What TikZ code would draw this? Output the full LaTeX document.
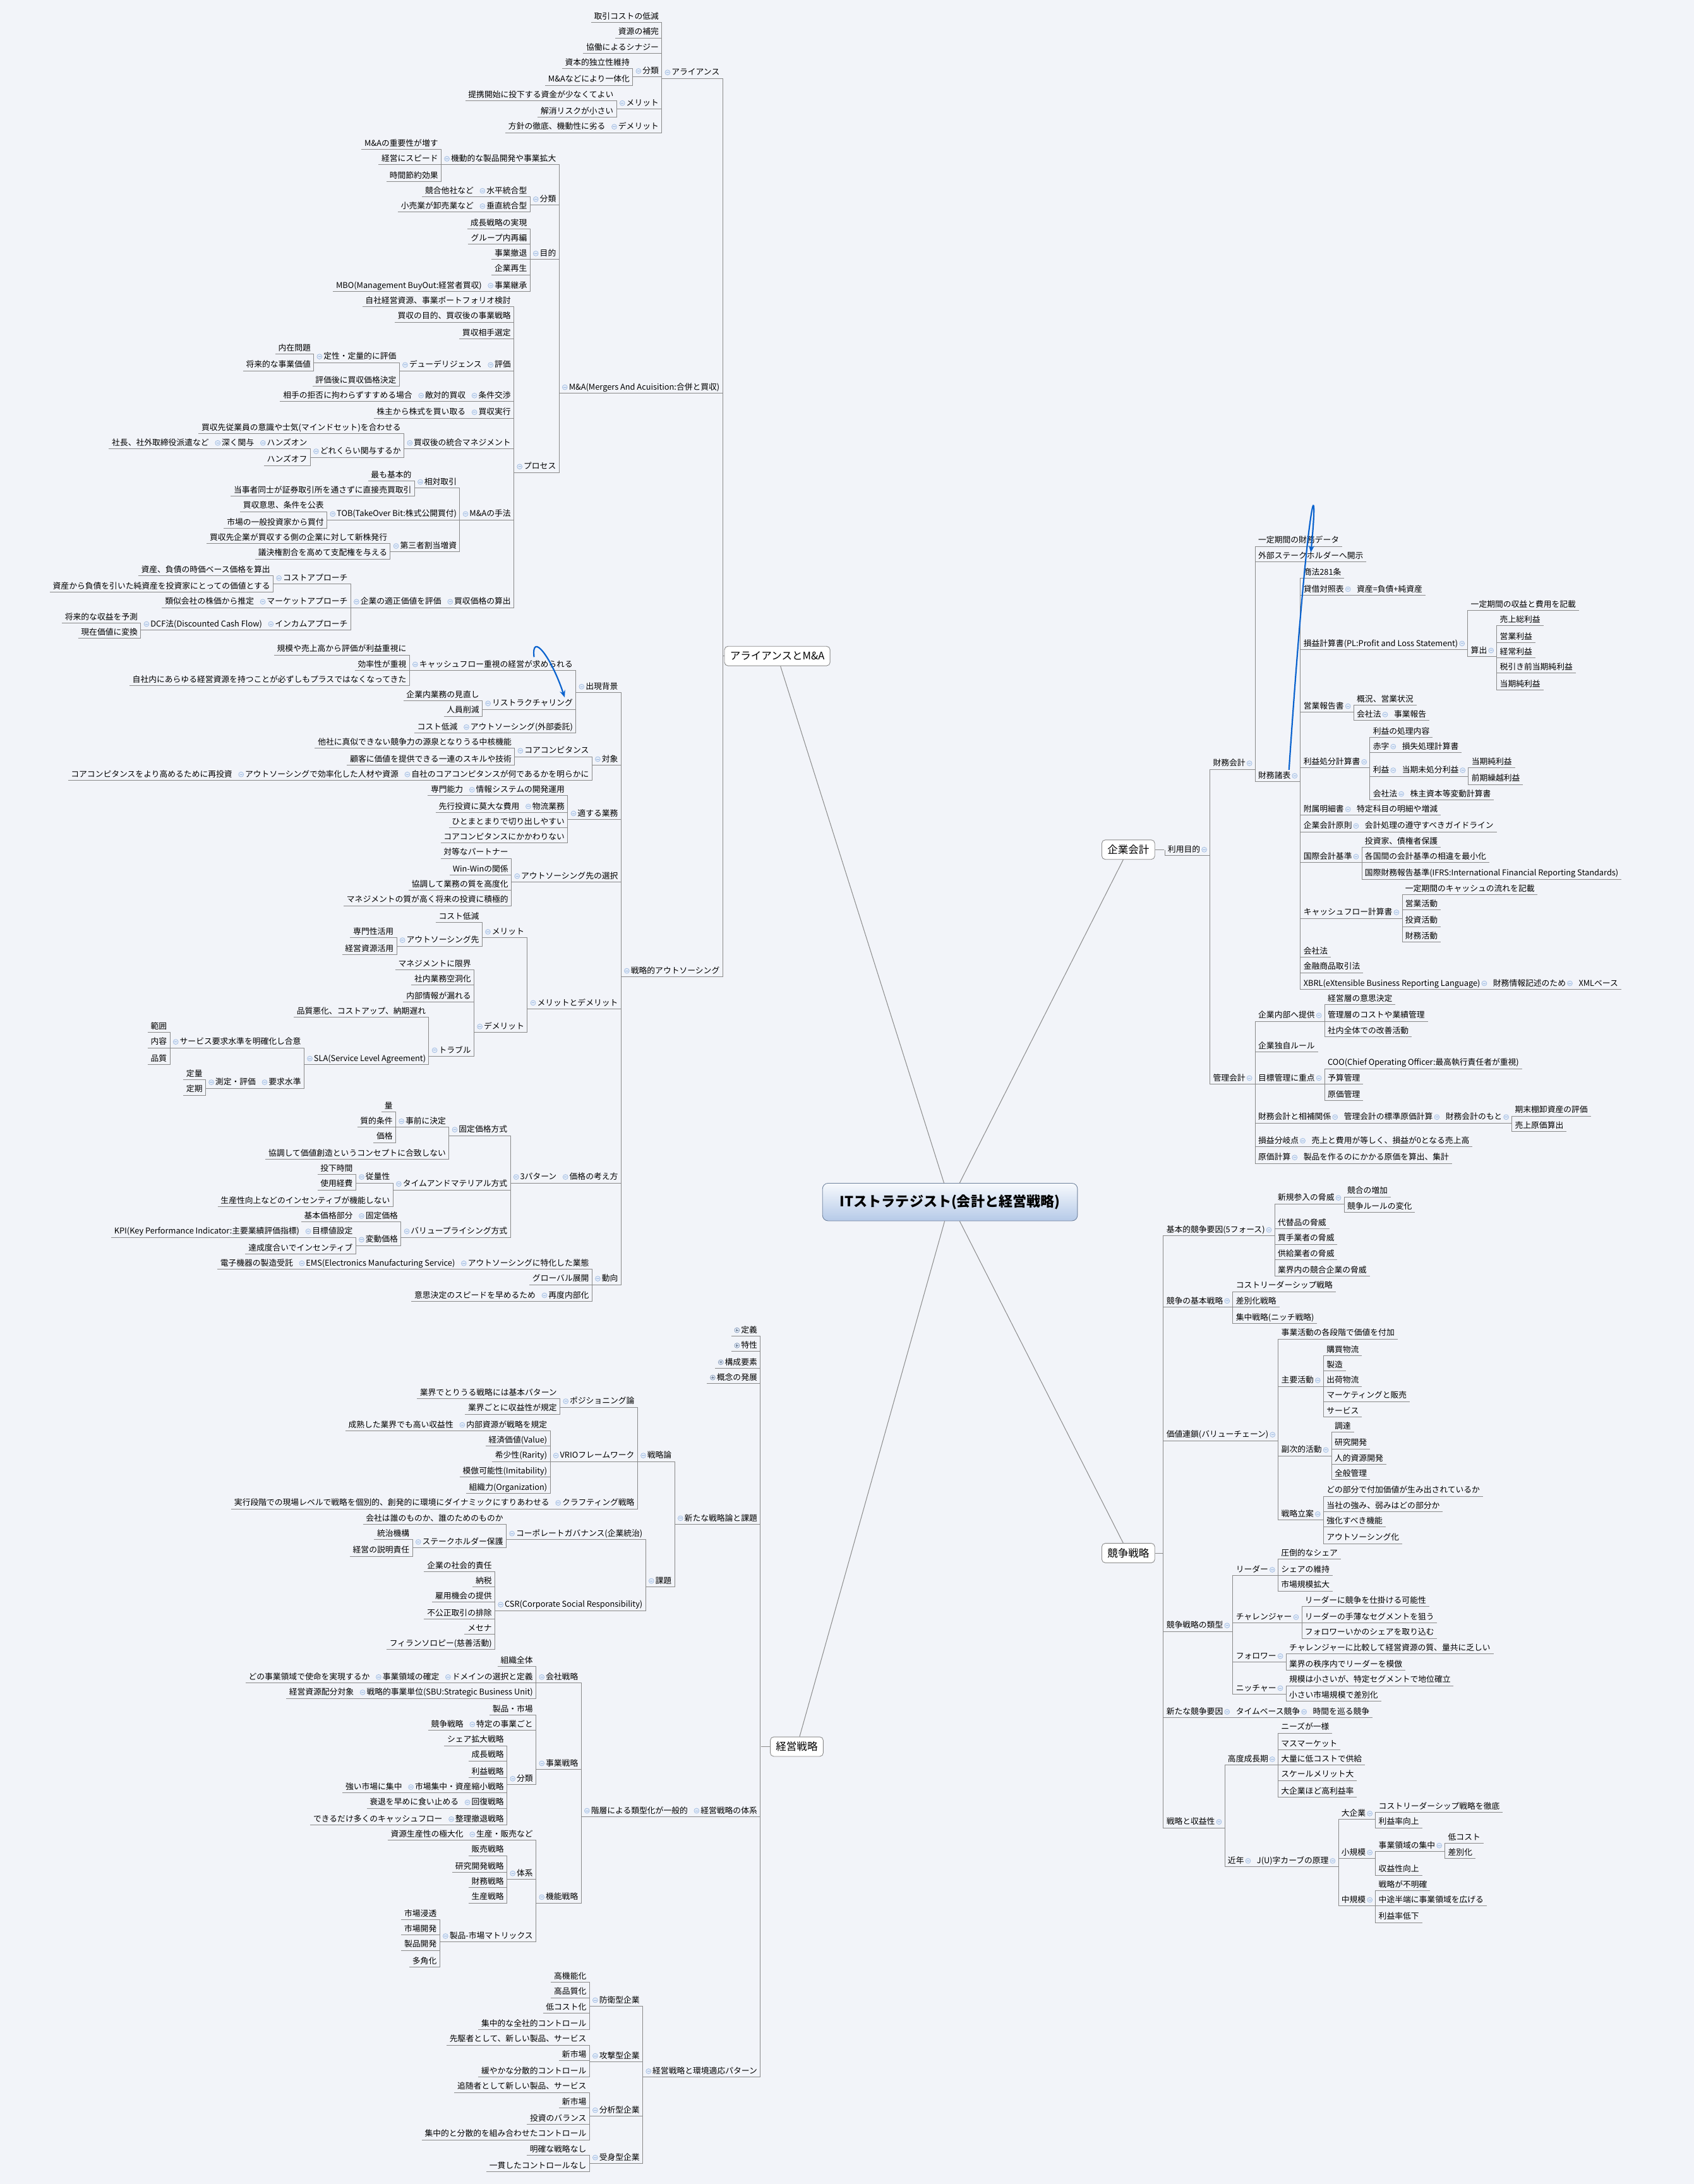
\documentclass[tikz,border=0pt]{standalone}
\usepackage{fontspec}
\setmainfont{Noto Sans CJK JP}
\usetikzlibrary{arrows.meta}
\definecolor{bgc}{HTML}{F2F4F9}
\definecolor{lnc}{HTML}{8A8A8A}
\definecolor{dotc}{HTML}{9DB8E0}
\definecolor{dotf}{HTML}{E3ECF8}
\definecolor{arc}{HTML}{0B63CE}
\newcommand\dt{\tikz[baseline=-0.6ex]{\draw[dotc,fill=dotf,line width=.3pt](0,0)circle(1.8pt);\draw[dotc,line width=.4pt](-1pt,0)--(1pt,0);}\,}
\newcommand\dtr{\,\tikz[baseline=-0.6ex]{\draw[dotc,fill=dotf,line width=.3pt](0,0)circle(1.8pt);\draw[dotc,line width=.4pt](-1pt,0)--(1pt,0);}}
\newcommand\dtp{\tikz[baseline=-0.6ex]{\draw[dotc!80!black,fill=dotf,line width=.3pt](0,0)circle(1.8pt);\draw[dotc!60!black,line width=.4pt](-1pt,0)--(1pt,0)(0,-1pt)--(0,1pt);}\,}
\newcommand\lc[4]{\node[nd,anchor=east] (#1) at (#2.south west |- 0,#3) {#4}; \draw[ln] (#1.south west) -- (#1.south east) -- (#2.south west);}
\newcommand\rc[4]{\node[nd,anchor=west] (#1) at (#2.south east |- 0,#3) {#4}; \draw[ln] (#1.south east) -- (#1.south west) -- (#2.south east);}
\begin{document}
\begin{tikzpicture}[x=1pt,y=-1pt,
  nd/.style={font=\fontsize{5.8}{6}\selectfont,inner xsep=2pt,inner ysep=1pt,text height=5pt,text depth=1.2pt},
  ln/.style={draw=lnc,line width=.45pt},
  bx/.style={draw=lnc,fill=white,rounded corners=2.5pt,font=\fontsize{7.5}{8}\selectfont,inner xsep=4pt,minimum height=14pt},
  sp/.style={inner sep=0pt,minimum size=0pt},
  arw/.style={draw=arc,line width=1pt,-{Stealth[length=5pt,width=4pt]}}]
\fill[bgc] (0,0) rectangle (1216,1568);
\useasboundingbox (0,0) rectangle (1216,1568);
% root
\node[draw=dotc!70!black,rounded corners=4pt,top color=white!70!dotf,bottom color=dotc!75,minimum width=183pt,minimum height=27pt,font=\bfseries\fontsize{10}{11}\selectfont] (root) at (682,863) {ITストラテジスト(会計と経営戦略)};
\node[bx] (am) at (558,471) {アライアンスとM\&A};
\node[bx] (ks) at (572,1254) {経営戦略};
\node[bx] (ka) at (810,610) {企業会計};
\node[bx] (kk) at (810,1115) {競争戦略};
\draw[ln] (root) -- (am); \draw[ln] (root) -- (ks); \draw[ln] (root) -- (ka); \draw[ln] (root) -- (kk);
\node[sp] (amS) at (519,471) {}; \draw[ln] (amS) -- (am.west);
\node[sp] (ksS) at (546,1254) {}; \draw[ln] (ksS) -- (ks.west);
\node[sp] (kaS) at (836,610) {}; \draw[ln] (kaS) -- (ka.east);
\node[sp] (kkS) at (835,1115) {}; \draw[ln] (kkS) -- (kk.east);
% ===== Alliance
\lc{al}{amS}{52}{\dt アライアンス}
\lc{al1}{al}{12}{取引コストの低減}
\lc{al2}{al}{23}{資源の補完}
\lc{al3}{al}{34}{協働によるシナジー}
\lc{al4}{al}{51}{\dt 分類}
\lc{al41}{al4}{45}{資本的独立性維持}
\lc{al42}{al4}{57}{M\&Aなどにより一体化}
\lc{al5}{al}{74}{\dt メリット}
\lc{al51}{al5}{68}{提携開始に投下する資金が少なくてよい}
\lc{al52}{al5}{80}{解消リスクが小さい}
\lc{al6}{al}{91}{\dt デメリット}
\lc{al61}{al6}{91}{方針の徹底、機動性に劣る}
% ===== M&A
\lc{ma}{amS}{278}{\dt M\&A(Mergers And Acuisition:合併と買収)}
\lc{m1}{ma}{114}{\dt 機動的な製品開発や事業拡大}
\lc{m11}{m1}{103}{M\&Aの重要性が増す}
\lc{m12}{m1}{114}{経営にスピード}
\lc{m13}{m1}{126}{時間節約効果}
\lc{m2}{ma}{143}{\dt 分類}
\lc{m21}{m2}{137}{\dt 水平統合型}
\lc{m211}{m21}{137}{競合他社など}
\lc{m22}{m2}{148}{\dt 垂直統合型}
\lc{m221}{m22}{148}{小売業が卸売業など}
\lc{m3}{ma}{182}{\dt 目的}
\lc{m31}{m3}{160}{成長戦略の実現}
\lc{m32}{m3}{171}{グループ内再編}
\lc{m33}{m3}{182}{事業撤退}
\lc{m34}{m3}{193}{企業再生}
\lc{m35}{m3}{205}{\dt 事業継承}
\lc{m351}{m35}{205}{MBO(Management BuyOut:経営者買収)}
\lc{m4}{ma}{335}{\dt プロセス}
\lc{p1}{m4}{216}{自社経営資源、事業ポートフォリオ検討}
\lc{p2}{m4}{227}{買収の目的、買収後の事業戦略}
\lc{p3}{m4}{239}{買収相手選定}
\lc{p4}{m4}{262}{\dt 評価}
\lc{p41}{p4}{262}{\dt デューデリジェンス}
\lc{p411}{p41}{256}{\dt 定性・定量的に評価}
\lc{p4111}{p411}{250}{内在問題}
\lc{p4112}{p411}{262}{将来的な事業価値}
\lc{p412}{p41}{273}{評価後に買収価格決定}
\lc{p5}{m4}{284}{\dt 条件交渉}
\lc{p51}{p5}{284}{\dt 敵対的買収}
\lc{p511}{p51}{284}{相手の拒否に拘わらずすすめる場合}
\lc{p6}{m4}{296}{\dt 買収実行}
\lc{p61}{p6}{296}{株主から株式を買い取る}
\lc{p7}{m4}{318}{\dt 買収後の統合マネジメント}
\lc{p71}{p7}{307}{買収先従業員の意識や士気(マインドセット)を合わせる}
\lc{p72}{p7}{324}{\dt どれくらい関与するか}
\lc{p721}{p72}{318}{\dt ハンズオン}
\lc{p7211}{p721}{318}{\dt 深く関与}
\lc{p72111}{p7211}{318}{社長、社外取締役派遣など}
\lc{p722}{p72}{330}{ハンズオフ}
\lc{p8}{m4}{369}{\dt M\&Aの手法}
\lc{p81}{p8}{346}{\dt 相対取引}
\lc{p811}{p81}{341}{最も基本的}
\lc{p812}{p81}{352}{当事者同士が証券取引所を通さずに直接売買取引}
\lc{p82}{p8}{369}{\dt TOB(TakeOver Bit:株式公開買付)}
\lc{p821}{p82}{363}{買収意思、条件を公表}
\lc{p822}{p82}{375}{市場の一般投資家から買付}
\lc{p83}{p8}{392}{\dt 第三者割当増資}
\lc{p831}{p83}{386}{買収先企業が買収する側の企業に対して新株発行}
\lc{p832}{p83}{397}{議決権割合を高めて支配権を与える}
\lc{p9}{m4}{432}{\dt 買収価格の算出}
\lc{p91}{p9}{432}{\dt 企業の適正価値を評価}
\lc{p911}{p91}{415}{\dt コストアプローチ}
\lc{p9111}{p911}{409}{資産、負債の時価ベース価格を算出}
\lc{p9112}{p911}{421}{資産から負債を引いた純資産を投資家にとっての価値とする}
\lc{p912}{p91}{432}{\dt マーケットアプローチ}
\lc{p9121}{p912}{432}{類似会社の株価から推定}
\lc{p913}{p91}{448}{\dt インカムアプローチ}
\lc{p9131}{p913}{448}{\dt DCF法(Discounted Cash Flow)}
\lc{p91311}{p9131}{443}{将来的な収益を予測}
\lc{p91312}{p9131}{454}{現在価値に変換}
% ===== Outsourcing
\lc{so}{amS}{697}{\dt 戦略的アウトソーシング}
\lc{s1}{so}{493}{\dt 出現背景}
\lc{s11}{s1}{477}{\dt キャッシュフロー重視の経営が求められる}
\lc{s111}{s11}{466}{規模や売上高から評価が利益重視に}
\lc{s112}{s11}{477}{効率性が重視}
\lc{s113}{s11}{488}{自社内にあらゆる経営資源を持つことが必ずしもプラスではなくなってきた}
\lc{s12}{s1}{505}{\dt リストラクチャリング}
\lc{s121}{s12}{499}{企業内業務の見直し}
\lc{s122}{s12}{510}{人員削減}
\lc{s13}{s1}{522}{\dt アウトソーシング(外部委託)}
\lc{s131}{s13}{522}{コスト低減}
\lc{s2}{so}{545}{\dt 対象}
\lc{s21}{s2}{539}{\dt コアコンピタンス}
\lc{s211}{s21}{533}{他社に真似できない競争力の源泉となりうる中核機能}
\lc{s212}{s21}{545}{顧客に価値を提供できる一連のスキルや技術}
\lc{s22}{s2}{556}{\dt 自社のコアコンピタンスが何であるかを明らかに}
\lc{s221}{s22}{556}{\dt アウトソーシングで効率化した人材や資源}
\lc{s2211}{s221}{556}{コアコンピタンスをより高めるために再投資}
\lc{s3}{so}{584}{\dt 適する業務}
\lc{s31}{s3}{567}{\dt 情報システムの開発運用}
\lc{s311}{s31}{567}{専門能力}
\lc{s32}{s3}{579}{\dt 物流業務}
\lc{s321}{s32}{579}{先行投資に莫大な費用}
\lc{s33}{s3}{590}{ひとまとまりで切り出しやすい}
\lc{s34}{s3}{601}{コアコンピタンスにかかわりない}
\lc{s4}{so}{629}{\dt アウトソーシング先の選択}
\lc{s41}{s4}{612}{対等なパートナー}
\lc{s42}{s4}{624}{Win-Winの関係}
\lc{s43}{s4}{635}{協調して業務の質を高度化}
\lc{s44}{s4}{646}{マネジメントの質が高く将来の投資に積極的}
\lc{s5}{so}{720}{\dt メリットとデメリット}
\lc{s51}{s5}{669}{\dt メリット}
\lc{s511}{s51}{658}{コスト低減}
\lc{s512}{s51}{675}{\dt アウトソーシング先}
\lc{s5121}{s512}{669}{専門性活用}
\lc{s5122}{s512}{681}{経営資源活用}
\lc{s52}{s5}{737}{\dt デメリット}
\lc{s521}{s52}{692}{マネジメントに限界}
\lc{s522}{s52}{703}{社内業務空洞化}
\lc{s523}{s52}{715}{内部情報が漏れる}
\lc{s524}{s52}{754}{\dt トラブル}
\lc{s5241}{s524}{726}{品質悪化、コストアップ、納期遅れ}
\lc{s5242}{s524}{760}{\dt SLA(Service Level Agreement)}
\lc{sla1}{s5242}{748}{\dt サービス要求水準を明確化し合意}
\lc{sla11}{sla1}{737}{範囲}
\lc{sla12}{sla1}{748}{内容}
\lc{sla13}{sla1}{760}{品質}
\lc{sla2}{s5242}{777}{\dt 要求水準}
\lc{sla21}{sla2}{777}{\dt 測定・評価}
\lc{sla211}{sla21}{771}{定量}
\lc{sla212}{sla21}{782}{定期}
\lc{s6}{so}{845}{\dt 価格の考え方}
\lc{s61}{s6}{845}{\dt 3パターン}
\lc{t1}{s61}{811}{\dt 固定価格方式}
\lc{t11}{t1}{805}{\dt 事前に決定}
\lc{t111}{t11}{794}{量}
\lc{t112}{t11}{805}{質的条件}
\lc{t113}{t11}{816}{価格}
\lc{t12}{t1}{828}{協調して価値創造というコンセプトに合致しない}
\lc{t2}{s61}{850}{\dt タイムアンドマテリアル方式}
\lc{t21}{t2}{845}{\dt 従量性}
\lc{t211}{t21}{839}{投下時間}
\lc{t212}{t21}{850}{使用経費}
\lc{t22}{t2}{862}{生産性向上などのインセンティブが機能しない}
\lc{t3}{s61}{884}{\dt バリュープライシング方式}
\lc{t31}{t3}{873}{\dt 固定価格}
\lc{t311}{t31}{873}{基本価格部分}
\lc{t32}{t3}{890}{\dt 変動価格}
\lc{t321}{t32}{884}{\dt 目標値設定}
\lc{t3211}{t321}{884}{KPI(Key Performance Indicator:主要業績評価指標)}
\lc{t322}{t32}{896}{達成度合いでインセンティブ}
\lc{s7}{so}{918}{\dt 動向}
\lc{s71}{s7}{907}{\dt アウトソーシングに特化した業態}
\lc{s711}{s71}{907}{\dt EMS(Electronics Manufacturing Service)}
\lc{s7111}{s711}{907}{電子機器の製造受託}
\lc{s72}{s7}{918}{グローバル展開}
\lc{s73}{s7}{930}{\dt 再度内部化}
\lc{s731}{s73}{930}{意思決定のスピードを早めるため}
% ===== 経営戦略
\lc{k1}{ksS}{955}{\dtp 定義}
\lc{k2}{ksS}{966}{\dtp 特性}
\lc{k3}{ksS}{978}{\dtp 構成要素}
\lc{k4}{ksS}{989}{\dtp 概念の発展}
\lc{k5}{ksS}{1090}{\dt 新たな戦略論と課題}
\lc{k51}{k5}{1045}{\dt 戦略論}
\lc{u1}{k51}{1006}{\dt ポジショニング論}
\lc{u11}{u1}{1000}{業界でとりうる戦略には基本パターン}
\lc{u12}{u1}{1011}{業界ごとに収益性が規定}
\lc{u2}{k51}{1045}{\dt VRIOフレームワーク}
\lc{u21}{u2}{1023}{\dt 内部資源が戦略を規定}
\lc{u211}{u21}{1023}{成熟した業界でも高い収益性}
\lc{u22}{u2}{1034}{経済価値(Value)}
\lc{u23}{u2}{1045}{希少性(Rarity)}
\lc{u24}{u2}{1056}{模倣可能性(Imitability)}
\lc{u25}{u2}{1068}{組織力(Organization)}
\lc{u3}{k51}{1079}{\dt クラフティング戦略}
\lc{u31}{u3}{1079}{実行段階での現場レベルで戦略を個別的、創発的に環境にダイナミックにすりあわせる}
\lc{k52}{k5}{1135}{\dt 課題}
\lc{v1}{k52}{1101}{\dt コーポレートガバナンス(企業統治)}
\lc{v11}{v1}{1090}{会社は誰のものか、誰のためのものか}
\lc{v12}{v1}{1107}{\dt ステークホルダー保護}
\lc{v121}{v12}{1101}{統治機構}
\lc{v122}{v12}{1113}{経営の説明責任}
\lc{v2}{k52}{1152}{\dt CSR(Corporate Social Responsibility)}
\lc{v21}{v2}{1124}{企業の社会的責任}
\lc{v22}{v2}{1135}{納税}
\lc{v23}{v2}{1146}{雇用機会の提供}
\lc{v24}{v2}{1158}{不公正取引の排除}
\lc{v25}{v2}{1169}{メセナ}
\lc{v26}{v2}{1180}{フィランソロピー(慈善活動)}
\lc{k6}{ksS}{1300}{\dt 経営戦略の体系}
\lc{k61}{k6}{1300}{\dt 階層による類型化が一般的}
\lc{w1}{k61}{1204}{\dt 会社戦略}
\lc{w11}{w1}{1192}{組織全体}
\lc{w12}{w1}{1204}{\dt ドメインの選択と定義}
\lc{w121}{w12}{1204}{\dt 事業領域の確定}
\lc{w1211}{w121}{1204}{どの事業領域で使命を実現するか}
\lc{w13}{w1}{1215}{\dt 戦略的事業単位(SBU:Strategic Business Unit)}
\lc{w131}{w13}{1215}{経営資源配分対象}
\lc{w2}{k61}{1266}{\dt 事業戦略}
\lc{w21}{w2}{1227}{製品・市場}
\lc{w22}{w2}{1238}{\dt 特定の事業ごと}
\lc{w221}{w22}{1238}{競争戦略}
\lc{w23}{w2}{1277}{\dt 分類}
\lc{w231}{w23}{1249}{シェア拡大戦略}
\lc{w232}{w23}{1260}{成長戦略}
\lc{w233}{w23}{1272}{利益戦略}
\lc{w234}{w23}{1283}{\dt 市場集中・資産縮小戦略}
\lc{w2341}{w234}{1283}{強い市場に集中}
\lc{w235}{w23}{1294}{\dt 回復戦略}
\lc{w2351}{w235}{1294}{衰退を早めに食い止める}
\lc{w236}{w23}{1306}{\dt 整理撤退戦略}
\lc{w2361}{w236}{1306}{できるだけ多くのキャッシュフロー}
\lc{w3}{k61}{1362}{\dt 機能戦略}
\lc{w31}{w3}{1317}{\dt 生産・販売など}
\lc{w311}{w31}{1317}{資源生産性の極大化}
\lc{w32}{w3}{1345}{\dt 体系}
\lc{w321}{w32}{1328}{販売戦略}
\lc{w322}{w32}{1340}{研究開発戦略}
\lc{w323}{w32}{1351}{財務戦略}
\lc{w324}{w32}{1362}{生産戦略}
\lc{w33}{w3}{1390}{\dt 製品-市場マトリックス}
\lc{w331}{w33}{1374}{市場浸透}
\lc{w332}{w33}{1385}{市場開発}
\lc{w333}{w33}{1396}{製品開発}
\lc{w334}{w33}{1408}{多角化}
\lc{k7}{ksS}{1487}{\dt 経営戦略と環境適応パターン}
\lc{x1}{k7}{1436}{\dt 防衛型企業}
\lc{x11}{x1}{1419}{高機能化}
\lc{x12}{x1}{1430}{高品質化}
\lc{x13}{x1}{1441}{低コスト化}
\lc{x14}{x1}{1453}{集中的な全社的コントロール}
\lc{x2}{k7}{1476}{\dt 攻撃型企業}
\lc{x21}{x2}{1464}{先駆者として、新しい製品、サービス}
\lc{x22}{x2}{1475}{新市場}
\lc{x23}{x2}{1487}{緩やかな分散的コントロール}
\lc{x3}{k7}{1515}{\dt 分析型企業}
\lc{x31}{x3}{1498}{追随者として新しい製品、サービス}
\lc{x32}{x3}{1509}{新市場}
\lc{x33}{x3}{1521}{投資のバランス}
\lc{x34}{x3}{1532}{集中的と分散的を組み合わせたコントロール}
\lc{x4}{k7}{1549}{\dt 受身型企業}
\lc{x41}{x4}{1543}{明確な戦略なし}
\lc{x42}{x4}{1555}{一貫したコントロールなし}
% ===== 企業会計
\rc{r1}{kaS}{610}{利用目的\dtr}
\rc{f}{r1}{548}{財務会計\dtr}
\rc{f1}{f}{388}{一定期間の財務データ}
\rc{f2}{f}{399}{外部ステークホルダーへ開示}
\rc{f3}{f}{557}{財務諸表\dtr}
\rc{g1}{f3}{411}{商法281条}
\rc{g2}{f3}{423}{貸借対照表\dtr}
\rc{g21}{g2}{423}{資産=負債+純資産}
\rc{g3}{f3}{462}{損益計算書(PL:Profit and Loss Statement)\dtr}
\rc{g31}{g3}{434}{一定期間の収益と費用を記載}
\rc{g32}{g3}{467}{算出\dtr}
\rc{g321}{g32}{445}{売上総利益}
\rc{g322}{g32}{457}{営業利益}
\rc{g323}{g32}{468}{経常利益}
\rc{g324}{g32}{479}{税引き前当期純利益}
\rc{g325}{g32}{491}{当期純利益}
\rc{g4}{f3}{507}{営業報告書\dtr}
\rc{g41}{g4}{502}{概況、営業状況}
\rc{g42}{g4}{513}{会社法\dtr}
\rc{g421}{g42}{513}{事業報告}
\rc{g5}{f3}{547}{利益処分計算書\dtr}
\rc{g51}{g5}{525}{利益の処理内容}
\rc{g52}{g5}{536}{赤字\dtr}
\rc{g521}{g52}{536}{損失処理計算書}
\rc{g53}{g5}{553}{利益\dtr}
\rc{g531}{g53}{553}{当期未処分利益\dtr}
\rc{g5311}{g531}{547}{当期純利益}
\rc{g5312}{g531}{559}{前期繰越利益}
\rc{g54}{g5}{570}{会社法\dtr}
\rc{g541}{g54}{570}{株主資本等変動計算書}
\rc{g6}{f3}{581}{附属明細書\dtr}
\rc{g61}{g6}{581}{特定科目の明細や増減}
\rc{g7}{f3}{593}{企業会計原則\dtr}
\rc{g71}{g7}{593}{会計処理の遵守すべきガイドライン}
\rc{g8}{f3}{615}{国際会計基準\dtr}
\rc{g81}{g8}{604}{投資家、債権者保護}
\rc{g82}{g8}{615}{各国間の会計基準の相違を最小化}
\rc{g83}{g8}{627}{国際財務報告基準(IFRS:International Financial Reporting Standards)}
\rc{g9}{f3}{655}{キャッシュフロー計算書\dtr}
\rc{g91}{g9}{638}{一定期間のキャッシュの流れを記載}
\rc{g92}{g9}{649}{営業活動}
\rc{g93}{g9}{661}{投資活動}
\rc{g94}{g9}{672}{財務活動}
\rc{g10}{f3}{683}{会社法}
\rc{g11}{f3}{694}{金融商品取引法}
\rc{g12}{f3}{706}{XBRL(eXtensible Business Reporting Language)\dtr}
\rc{g121}{g12}{706}{財務情報記述のため\dtr}
\rc{g1211}{g121}{706}{XMLベース}
\rc{h}{r1}{774}{管理会計\dtr}
\rc{h1}{h}{729}{企業内部へ提供\dtr}
\rc{h11}{h1}{717}{経営層の意思決定}
\rc{h12}{h1}{729}{管理層のコストや業績管理}
\rc{h13}{h1}{740}{社内全体での改善活動}
\rc{h2}{h}{751}{企業独自ルール}
\rc{h3}{h}{774}{目標管理に重点\dtr}
\rc{h31}{h3}{763}{COO(Chief Operating Officer:最高執行責任者が重視)}
\rc{h32}{h3}{774}{予算管理}
\rc{h33}{h3}{786}{原価管理}
\rc{h4}{h}{802}{財務会計と相補関係\dtr}
\rc{h41}{h4}{802}{管理会計の標準原価計算\dtr}
\rc{h411}{h41}{802}{財務会計のもと\dtr}
\rc{h4111}{h411}{797}{期末棚卸資産の評価}
\rc{h4112}{h411}{808}{売上原価算出}
\rc{h5}{h}{819}{損益分岐点\dtr}
\rc{h51}{h5}{819}{売上と費用が等しく、損益が0となる売上高}
\rc{h6}{h}{831}{原価計算\dtr}
\rc{h61}{h6}{831}{製品を作るのにかかる原価を算出、集計}
% ===== 競争戦略
\rc{c1}{kkS}{883}{基本的競争要因(5フォース)\dtr}
\rc{c11}{c1}{860}{新規参入の脅威\dtr}
\rc{c111}{c11}{855}{競合の増加}
\rc{c112}{c11}{866}{競争ルールの変化}
\rc{c12}{c1}{878}{代替品の脅威}
\rc{c13}{c1}{889}{買手業者の脅威}
\rc{c14}{c1}{900}{供給業者の脅威}
\rc{c15}{c1}{912}{業界内の競合企業の脅威}
\rc{c2}{kkS}{934}{競争の基本戦略\dtr}
\rc{c21}{c2}{923}{コストリーダーシップ戦略}
\rc{c22}{c2}{934}{差別化戦略}
\rc{c23}{c2}{946}{集中戦略(ニッチ戦略)}
\rc{c3}{kkS}{1030}{価値連鎖(バリューチェーン)\dtr}
\rc{c31}{c3}{957}{事業活動の各段階で価値を付加}
\rc{c32}{c3}{991}{主要活動\dtr}
\rc{c321}{c32}{969}{購買物流}
\rc{c322}{c32}{980}{製造}
\rc{c323}{c32}{991}{出荷物流}
\rc{c324}{c32}{1002}{マーケティングと販売}
\rc{c325}{c32}{1013}{サービス}
\rc{c33}{c3}{1041}{副次的活動\dtr}
\rc{c331}{c33}{1024}{調達}
\rc{c332}{c33}{1036}{研究開発}
\rc{c333}{c33}{1047}{人的資源開発}
\rc{c334}{c33}{1058}{全般管理}
\rc{c34}{c3}{1087}{戦略立案\dtr}
\rc{c341}{c34}{1070}{どの部分で付加価値が生み出されているか}
\rc{c342}{c34}{1081}{当社の強み、弱みはどの部分か}
\rc{c343}{c34}{1092}{強化すべき機能}
\rc{c344}{c34}{1104}{アウトソーシング化}
\rc{c4}{kkS}{1167}{競争戦略の類型\dtr}
\rc{c41}{c4}{1127}{リーダー\dtr}
\rc{c411}{c41}{1115}{圧倒的なシェア}
\rc{c412}{c41}{1127}{シェアの維持}
\rc{c413}{c41}{1138}{市場規模拡大}
\rc{c42}{c4}{1161}{チャレンジャー\dtr}
\rc{c421}{c42}{1149}{リーダーに競争を仕掛ける可能性}
\rc{c422}{c42}{1161}{リーダーの手薄なセグメントを狙う}
\rc{c423}{c42}{1172}{フォロワーいかのシェアを取り込む}
\rc{c43}{c4}{1189}{フォロワー\dtr}
\rc{c431}{c43}{1183}{チャレンジャーに比較して経営資源の質、量共に乏しい}
\rc{c432}{c43}{1195}{業界の秩序内でリーダーを模倣}
\rc{c44}{c4}{1212}{ニッチャー\dtr}
\rc{c441}{c44}{1206}{規模は小さいが、特定セグメントで地位確立}
\rc{c442}{c44}{1217}{小さい市場規模で差別化}
\rc{c5}{kkS}{1229}{新たな競争要因\dtr}
\rc{c51}{c5}{1229}{タイムベース競争\dtr}
\rc{c511}{c51}{1229}{時間を巡る競争}
\rc{c6}{kkS}{1308}{戦略と収益性\dtr}
\rc{c61}{c6}{1263}{高度成長期\dtr}
\rc{c611}{c61}{1240}{ニーズが一様}
\rc{c612}{c61}{1252}{マスマーケット}
\rc{c613}{c61}{1263}{大量に低コストで供給}
\rc{c614}{c61}{1274}{スケールメリット大}
\rc{c615}{c61}{1286}{大企業ほど高利益率}
\rc{c62}{c6}{1336}{近年\dtr}
\rc{c621}{c62}{1336}{J(U)字カーブの原理\dtr}
\rc{d1}{c621}{1302}{大企業\dtr}
\rc{d11}{d1}{1297}{コストリーダーシップ戦略を徹底}
\rc{d12}{d1}{1308}{利益率向上}
\rc{d2}{c621}{1330}{小規模\dtr}
\rc{d21}{d2}{1325}{事業領域の集中\dtr}
\rc{d211}{d21}{1319}{低コスト}
\rc{d212}{d21}{1330}{差別化}
\rc{d22}{d2}{1342}{収益性向上}
\rc{d3}{c621}{1364}{中規模\dtr}
\rc{d31}{d3}{1353}{戦略が不明確}
\rc{d32}{d3}{1364}{中途半端に事業領域を広げる}
\rc{d33}{d3}{1376}{利益率低下}
% ===== blue arrows
\coordinate (aA) at ([xshift=-30pt,yshift=1pt]s11.north east);
\coordinate (aB) at ([xshift=-8pt]s12.north east);
\draw[arw] (aA) .. controls +(-2,-18) and +(-10,-30) .. (aB);
\coordinate (bA) at ([xshift=8pt]f3.north);
\coordinate (bB) at ([yshift=-2pt]f2.north);
\draw[arw] (bA) .. controls +(14,-210) and +(6,-60) .. (bB);
\end{tikzpicture}
\end{document}
